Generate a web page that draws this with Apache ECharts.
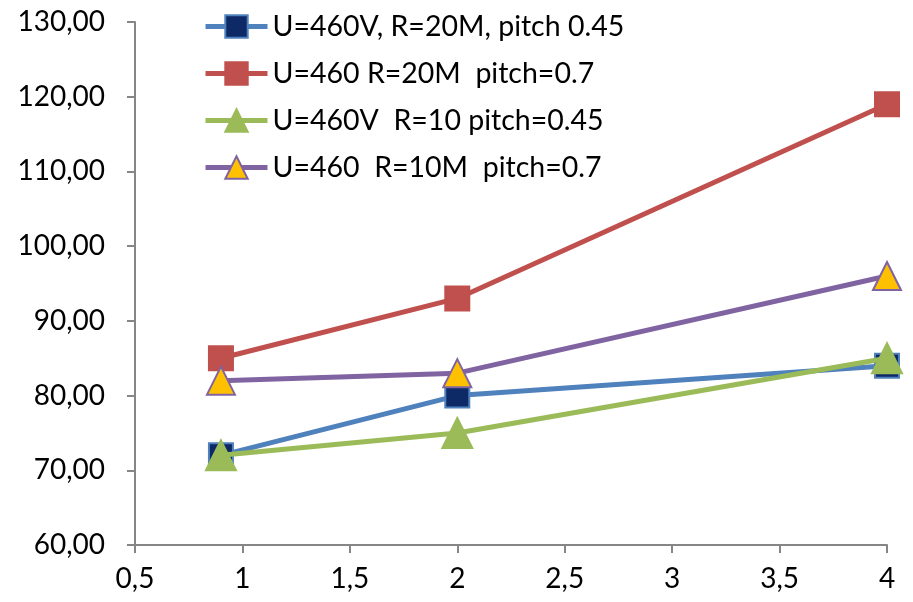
<!DOCTYPE html>
<html><head><meta charset="utf-8">
<script src="https://cdn.jsdelivr.net/npm/echarts@6/dist/echarts.min.js"></script>
<style>html,body{margin:0;padding:0;background:#fff}#c{width:913px;height:602px}</style>
</head><body><div id="c"></div>
<script>
const xValues = [0.9, 2, 4];
const seriesNames = ['U=460V, R=20M, pitch 0.45', 'U=460 R=20M  pitch=0.7', 'U=460V  R=10 pitch=0.45', 'U=460  R=10M  pitch=0.7'];
const s1 = [72, 80, 84];
const s2 = [85, 93, 119];
const s3 = [72, 75, 85];
const s4 = [82, 83, 96];
const yTicks = {min: 60, max: 130, interval: 10};
const xTicks = {min: 0.5, max: 4, interval: 0.5};

const FONT = 'Lato';
const lineColors = ['#4F81BD', '#C0504D', '#9BBB59', '#8064A2'];
const symbols = ['rect', 'rect', 'triangle', 'triangle'];
const symFill = ['#0E2A66', '#C0504D', '#9BBB59', '#FFC000'];
const symBorder = ['#4F81BD', '#C0504D', '#9BBB59', '#8064A2'];
const symSize = [24, 24, 30, 28];
const data = [s1, s2, s3, s4];

const chart = echarts.init(document.getElementById('c'));
chart.setOption({
  animation: false,
  grid: {left: 135, right: 26, top: 22, bottom: 57},
  legend: {
    orient: 'vertical', left: 198, top: 7, itemGap: 18, itemWidth: 62, itemHeight: 28,
    textStyle: {fontFamily: FONT, fontSize: 28.5, color: '#000'},
    lineStyle: {width: 5},
    data: seriesNames
  },
  xAxis: {
    type: 'value', min: xTicks.min, max: xTicks.max, interval: xTicks.interval,
    axisLine: {show: true, lineStyle: {color: '#868686', width: 2}},
    axisTick: {show: true, length: 8, lineStyle: {color: '#868686', width: 2}},
    splitLine: {show: false},
    axisLabel: {fontFamily: FONT, fontSize: 28, color: '#000', margin: 20,
      formatter: v => String(v).replace('.', ',')}
  },
  yAxis: {
    type: 'value', min: yTicks.min, max: yTicks.max, interval: yTicks.interval,
    axisLine: {show: true, lineStyle: {color: '#868686', width: 2}},
    axisTick: {show: true, length: 8, lineStyle: {color: '#868686', width: 2}},
    splitLine: {show: false},
    axisLabel: {fontFamily: FONT, fontSize: 28, color: '#000', margin: 30,
      formatter: v => v.toFixed(2).replace('.', ',')}
  },
  series: data.map((d, i) => ({
    name: seriesNames[i], type: 'line',
    data: d.map((y, j) => [xValues[j], y]),
    symbol: symbols[i], symbolSize: symSize[i],
    lineStyle: {color: lineColors[i], width: 5},
    itemStyle: {color: symFill[i], borderColor: symBorder[i], borderWidth: 2},
    z: 2 + i
  }))
});
</script></body></html>
